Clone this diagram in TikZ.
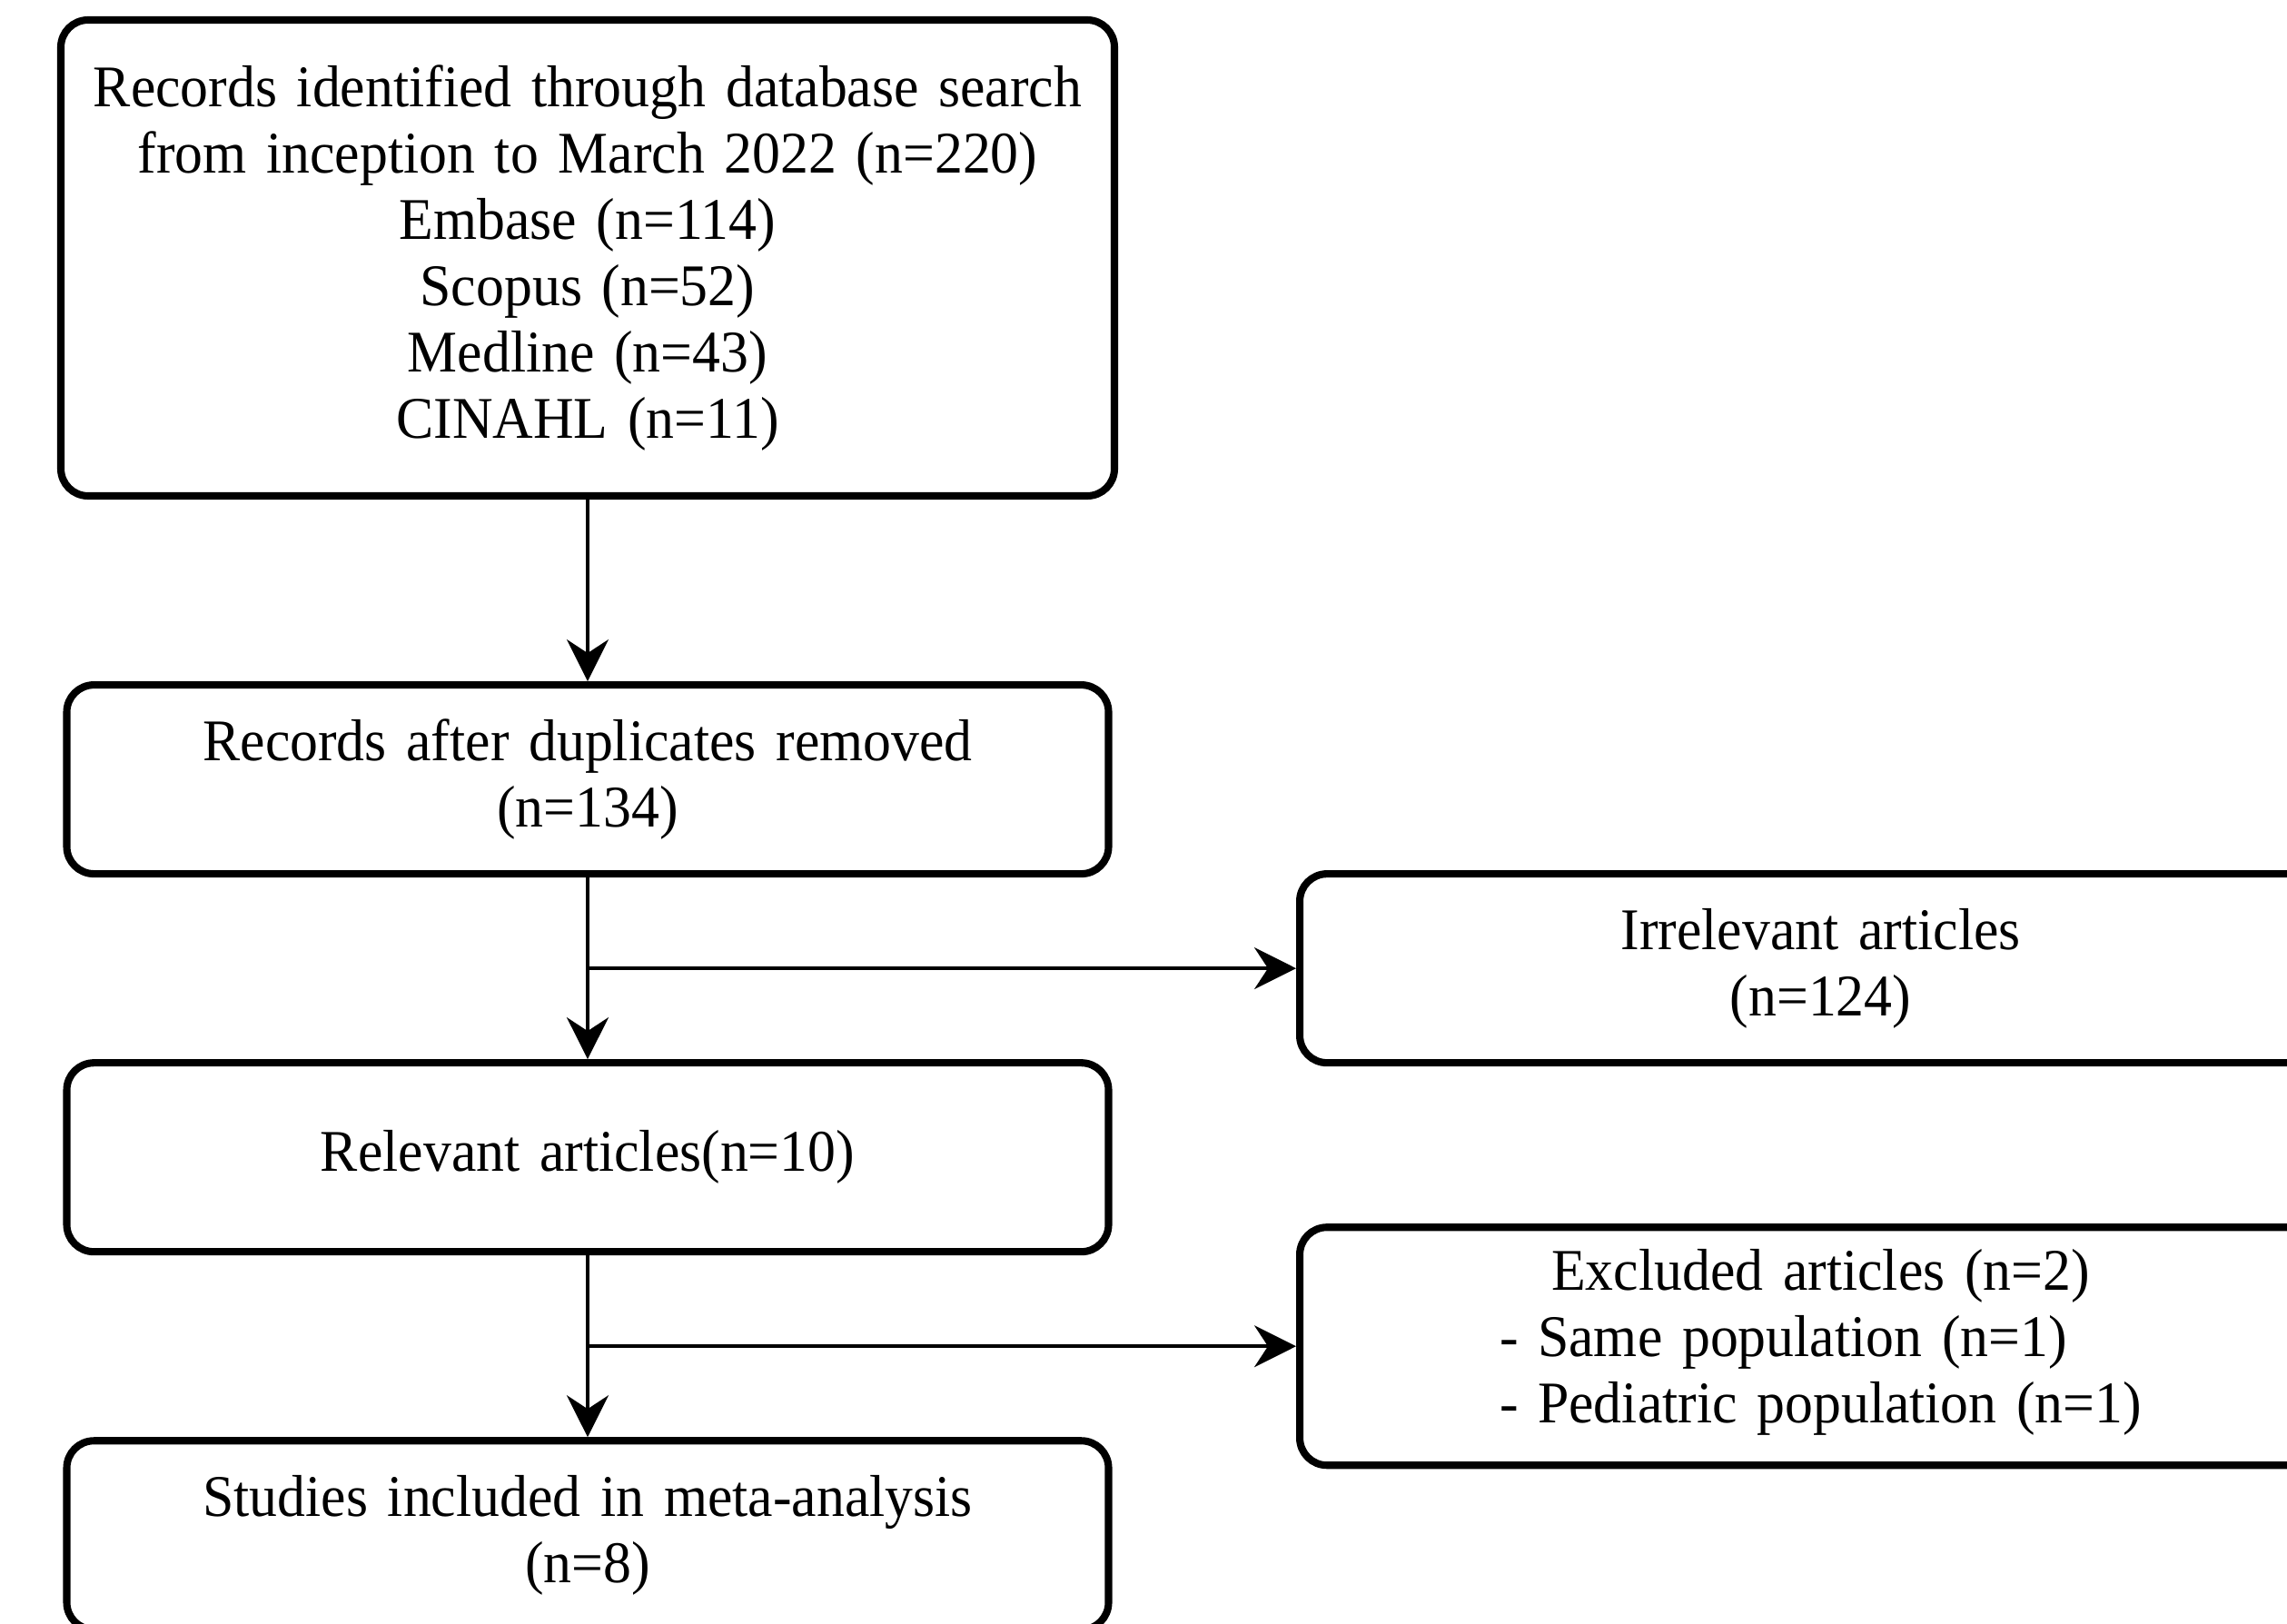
\documentclass[tikz,border=0pt]{standalone}
\usepackage{fontspec}
\setmainfont[FakeStretch=0.95]{Liberation Serif}
\usetikzlibrary{arrows.meta,calc,positioning}
\tikzset{
  flowarrow/.style={-{Stealth[length=4.6mm, width=4.6mm, inset=1.5mm]},
    line width=1.1pt, draw=black},
  flowbox/.style={draw=black, line width=2.3pt, rounded corners=3mm,
    align=center, text width=11cm, minimum width=11.47cm,
    minimum height=2.08cm, inner sep=0pt,
    font=\fontsize{18.5}{20.8}\selectfont}
}

\begin{document}
\begin{tikzpicture}[node distance=2.0cm and 7.8cm]
  \useasboundingbox (0,0) rectangle (25.18,-17.87);

  \node[flowbox, minimum width=11.6cm, minimum height=5.24cm]
    (records) at (6.47,-2.84)
    {Records identified through database search\\
     from inception to March 2022 (n=220)\\
     Embase (n=114)\\
     Scopus (n=52)\\
     Medline (n=43)\\
     CINAHL (n=11)};
  \node[flowbox, below=of records] (dedup)
    {Records after duplicates removed\\(n=134)};
  \node[flowbox, below=of dedup] (relevant) {Relevant articles(n=10)};
  \node[flowbox, below=of relevant] (included)
    {Studies included in meta-analysis\\(n=8)};

  \coordinate (split1) at ($(dedup.south)!0.5!(relevant.north)$);
  \coordinate (split2) at ($(relevant.south)!0.5!(included.north)$);

  \node[flowbox, right=of split1] (irrelevant)
    {Irrelevant articles\\(n=124)};
  \node[flowbox, minimum height=2.62cm, right=of split2] (excluded)
    {Excluded articles (n=2)\\
     \begin{tabular}[t]{@{}l@{}}
       - Same population (n=1)\\
       - Pediatric population (n=1)
     \end{tabular}};

  \draw[flowarrow] (records) -- (dedup);
  \draw[flowarrow] (dedup) -- (relevant);
  \draw[flowarrow] (relevant) -- (included);
  \draw[flowarrow] (split1) -- (irrelevant);
  \draw[flowarrow] (split2) -- (excluded);
\end{tikzpicture}
\end{document}
